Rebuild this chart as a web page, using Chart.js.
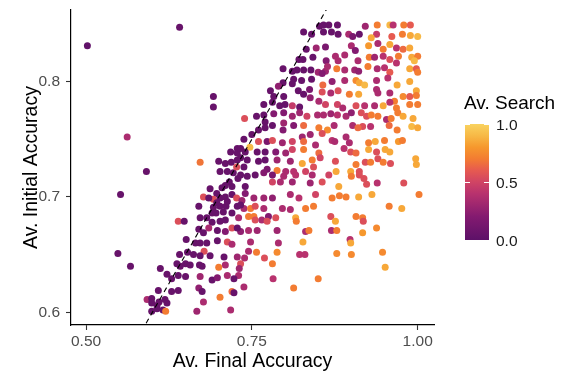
<!DOCTYPE html>
<html>
<head>
<meta charset="utf-8">
<script src="https://cdn.jsdelivr.net/npm/chart.js@4.4.0/dist/chart.umd.min.js"></script>
<style>
  html, body { margin: 0; padding: 0; background: #fff; }
</style>
</head>
<body>
<canvas id="grafico" width="569" height="373"></canvas>
<script>
// Av. Final Accuracy (x)
const finalAcc = [
  0.502,0.641,0.692,0.692,0.562,0.739,0.757,0.747,0.591,0.552,0.548,0.567,0.672,0.639,0.648,
  .852,.858,.866,.879,.858,.870,.880,.828,.840,.832,
  .847,.861,.821,.827,.842,.862,.876,.880,.797,.811,
  .818,.828,.839,.850,.861,.864,.878,.813,.825,.840,
  .856,.797,.811,.857,.871,.790,.778,.820,.828,.837,
  .856,.869,.768,.781,.792,.800,.811,.822,.838,.851,
  .861,.879,.783,.798,
  .921,.939,.958,.963,.979,.989,.896,.902,.912,.938,
  .930,.961,.977,.989,1.000,.900,.906,.926,.940,.948,
  .958,.968,.978,.988,.890,.910,.927,.935,.948,.958,
  .971,.991,1.000,.995,.890,.905,.911,.925,.939,.950,
  .958,.968,.988,.998,1.000,.890,.907,.912,.920,.938,
  .955,.969,.988,.880,.897,.911,.938,.940,.958,.965,
  .978,.988,.998,.998,.887,.907,.920,.935,.948,.958,
  .988,1.000,.968,
  .700,.718,.728,.728,.710,.719,.728,.702,.713,.722,
  .727,.729,.716,.710,.720,.705,.687,.697,.677,.692,
  .702,.710,.720,.727,.670,.692,.702,.711,.728,.690,
  .696,.707,.720,.672,.682,
  .768,.783,.798,.811,.822,.833,.849,.858,.869,.879,
  .770,.781,.798,.813,.828,.851,.864,.874,.750,.760,
  .770,.797,.826,.838,.856,.871,.738,.760,.773,.781,
  .796,.811,.828,.846,.733,.758,.770,.786,.801,.811,
  .828,.851,.733,.743,.760,.770,.788,.808,.826,.841,
  .853,.876,.738,.773,.788,.801,.813,.831,.843,.733,
  .743,.755,.768,.798,.816,.841,.866,.781,.793,.811,
  .838,.856,.881,.740,.740,.753,.768,.781,.808,.821,
  .846,.871,.738,.748,.768,.796,.808,.831,.843,.753,
  .775,.786,.816,.869,
  .892,.900,.915,.923,.930,.940,.953,.960,.970,.978,
  .993,.991,1.000,.902,.917,.929,.910,.957,.969,.892,
  .897,.875,.926,.936,.950,.971,.977,.889,.899,.907,
  .926,.938,.951,.958,.907,.921,.929,.940,.948,.959,
  .997,.998,.877,.899,.900,.912,.912,.919,.923,.939,
  .979,.882,.892,.911,.931,1.002,.957,.976,.907,.917,
  .817,.876,.918,.831,.836,.870,.878,.938,.917,.788,
  .827,.790,.898,.899,.788,.822,.830,.878,.900,.947,
  .781,.951,.782,.850,.813,
  .690,.702,.710,.730,.745,.755,.765,.773,.670,.685,
  .698,.710,.720,.733,.745,.758,.651,.665,.672,.682,
  .698,.713,.748,.678,.641,.653,.662,.672,.687,.708,
  .728,.739,.745,.757,.769,.612,.637,.642,.650,.657,
  .671,.675,.710,.700,.733,.731,.622,.629,.639,.650,
  .672,.690,.698,.713,.730,.629,.639,.670,.675,.702,
  .720,.723,.738,.592,.599,.599,.610,.619,.622,.599,
  .607,.616,.620,.667,.677,.718,
  .740,.685,.697,.713,.735,.733,.755,.728,.677,.720,
  .723,.609,.607,.781
];

// Av. Initial Accuracy (y)
const initialAcc = [
  0.831,0.847,0.787,0.778,0.752,0.768,0.770,0.743,0.722,0.702,0.651,0.640,0.730,0.679,0.679,
  .848,.849,.849,.849,.843,.843,.841,.843,.841,.828,
  .829,.830,.819,.819,.821,.818,.822,.818,.811,.809,
  .810,.810,.810,.808,.809,.813,.811,.802,.801,.802,
  .807,.799,.798,.797,.800,.796,.792,.792,.789,.793,
  .791,.790,.780,.782,.779,.780,.779,.778,.786,.783,
  .780,.780,.787,.787,
  .848,.849,.849,.849,.849,.849,.841,.839,.841,.841,
  .838,.839,.841,.840,.839,.831,.827,.831,.833,.828,
  .832,.829,.828,.829,.823,.818,.821,.821,.822,.819,
  .822,.821,.822,.818,.810,.810,.809,.813,.811,.812,
  .808,.816,.811,.811,.808,.801,.801,.799,.797,.801,
  .803,.797,.800,.792,.789,.789,.793,.790,.790,.783,
  .787,.787,.792,.788,.777,.779,.779,.779,.779,.782,
  .780,.780,.777,
  .731,.739,.742,.738,.729,.730,.732,.722,.722,.721,
  .726,.716,.713,.710,.709,.708,.707,.703,.700,.698,
  .699,.700,.702,.699,.692,.691,.692,.692,.692,.686,
  .686,.687,.686,.682,.682,
  .771,.772,.773,.770,.773,.770,.771,.771,.772,.771,
  .765,.762,.764,.762,.762,.760,.758,.762,.754,.758,
  .760,.758,.752,.754,.755,.749,.750,.748,.748,.749,
  .747,.748,.748,.745,.742,.739,.739,.739,.738,.741,
  .741,.738,.734,.732,.731,.732,.732,.731,.729,.732,
  .734,.731,.726,.724,.723,.722,.722,.722,.726,.719,
  .718,.719,.721,.718,.719,.719,.719,.713,.713,.713,
  .712,.713,.709,.709,.703,.699,.699,.699,.702,.699,
  .702,.699,.690,.690,.690,.690,.689,.690,.692,.683,
  .683,.682,.682,.683,
  .770,.773,.773,.770,.771,.770,.767,.768,.773,.770,
  .768,.761,.760,.762,.761,.761,.760,.762,.758,.752,
  .747,.748,.747,.748,.749,.748,.749,.742,.739,.738,
  .741,.739,.741,.739,.728,.730,.730,.733,.730,.729,
  .733,.728,.722,.722,.718,.722,.719,.716,.711,.712,
  .712,.701,.700,.700,.702,.702,.692,.690,.683,.682,
  .679,.679,.679,.670,.671,.671,.671,.673,.669,.671,
  .661,.660,.663,.660,.652,.650,.650,.651,.650,.652,
  .642,.639,.629,.629,.621,
  .678,.679,.680,.682,.683,.680,.680,.679,.672,.673,
  .671,.670,.673,.670,.671,.671,.663,.660,.660,.660,
  .662,.661,.661,.653,.650,.652,.650,.649,.649,.648,
  .648,.647,.653,.652,.647,.638,.642,.640,.642,.641,
  .641,.640,.641,.639,.642,.638,.633,.629,.632,.631,
  .631,.628,.630,.632,.632,.618,.619,.621,.618,.613,
  .618,.617,.622,.611,.612,.608,.609,.611,.608,.601,
  .603,.602,.601,.601,.609,.602,
  .739,.699,.695,.696,.697,.693,.692,.673,.669,.659,
  .629,.619,.606,.719
];

// Av. Search (colour)
const search = [
  0.02,0.05,0.05,0.05,0.35,0.55,0.05,0.9,0.05,0.05,0.05,0.05,0.68,0.55,0.05,
  .05,.05,.05,.05,.05,.05,.05,.05,.05,.05,
  .3,.15,.05,.05,.05,.2,.35,.35,.05,.05,
  .05,.05,.05,.3,.3,.35,.7,.05,.05,.05,
  .2,.05,.05,.65,.25,.25,.05,.05,.05,.15,
  .55,.35,.05,.05,.05,.05,.45,.05,.25,.35,
  .5,.5,.05,.05,
  .3,.7,.9,.4,.7,.6,.35,.15,.05,.45,
  .85,.6,.7,.85,.9,.35,.2,.8,.35,.7,
  .85,.4,.65,.85,.35,.35,.7,.3,.4,.55,
  .7,.85,.7,.9,.35,.3,.25,.7,.35,.4,
  .6,.4,.85,.6,.7,.35,.75,.85,.9,.35,
  .4,.85,.85,.55,.7,.85,.35,.35,.35,.7,
  .75,.6,.85,.7,.35,.55,.4,.35,.85,.4,
  .7,.7,.7,
  .05,.05,.05,.05,.05,.05,.05,.05,.05,.05,
  .55,.05,.05,.05,.05,.05,.05,.05,.55,.55,
  .05,.05,.05,.55,.05,.05,.05,.05,.05,.05,
  .05,.05,.05,.05,.05,
  .05,.2,.2,.3,.3,.5,.35,.35,.3,.4,
  .05,.05,.3,.2,.65,.7,.75,.35,.05,.05,
  .05,.2,.3,.3,.55,.4,.05,.55,.15,.55,
  .3,.5,.65,.35,.05,.05,.05,.2,.3,.5,
  .7,.65,.05,.05,.05,.05,.3,.3,.85,.7,
  .5,.55,.05,.15,.7,.35,.4,.5,.55,.05,
  .05,.05,.2,.35,.4,.35,.5,.5,.35,.3,
  .3,.55,.85,.05,.2,.3,.3,.25,.35,.4,
  .5,.7,.35,.7,.35,.35,.35,.7,.7,.7,
  .2,.55,.85,.55,
  .35,.25,.55,.55,.7,.7,.35,.7,.7,.85,
  .85,.9,.85,.35,.55,.4,.65,.65,.7,.35,
  .35,.35,.7,.85,.7,.8,.7,.4,.55,.65,
  .85,.55,.85,.85,.7,.55,.7,.55,.7,.55,
  .85,.85,.85,.85,.7,.55,.55,.55,.55,.4,
  .55,.7,.7,.85,.85,.7,.7,.85,.7,.7,
  .7,.85,.55,.35,.7,.35,.7,.75,.8,.3,
  .85,.35,.4,.85,.75,.4,.4,.75,.75,.75,
  .7,.85,.4,.7,.7,
  .05,.05,.05,.35,.7,.55,.35,.55,.05,.35,
  .05,.2,.55,.25,.35,.3,.05,.05,.05,.05,
  .05,.55,.35,.55,.05,.05,.05,.05,.05,.05,
  .3,.35,.35,.7,.55,.05,.05,.05,.05,.05,
  .05,.05,.35,.7,.55,.3,.05,.05,.05,.05,
  .3,.05,.2,.35,.35,.05,.05,.25,.05,.7,
  .65,.05,.35,.35,.05,.05,.05,.05,.05,.05,
  .05,.05,.7,.3,.35,.35,
  .05,.05,.05,.05,.3,.05,.55,.05,.05,.35,
  .05,.05,.05,.15
];

const xTicks = [0.5, 0.75, 1.0];
const yTicks = [0.6, 0.7, 0.8];
const searchTicks = [0, 0.5, 1];
const refLine = [0.55, 0.9]; // y = x

const fuente = "'Liberation Sans', Arial, sans-serif";

// paleta tipo inferno recortada
const paleta = [
  [0.0, [93, 17, 104]],
  [0.2, [131, 26, 112]],
  [0.4, [184, 50, 110]],
  [0.5, [208, 68, 100]],
  [0.6, [230, 90, 80]],
  [0.7, [243, 124, 50]],
  [0.8, [246, 152, 45]],
  [0.9, [247, 185, 70]],
  [1.0, [249, 211, 96]]
];

function colorDe(v) {
  for (let i = 1; i < paleta.length; i++) {
    if (v <= paleta[i][0]) {
      const a = paleta[i - 1], b = paleta[i];
      const t = (v - a[0]) / (b[0] - a[0]);
      const c = a[1].map((k, j) => Math.round(k + (b[1][j] - k) * t));
      return `rgb(${c[0]},${c[1]},${c[2]})`;
    }
  }
  const u = paleta[paleta.length - 1][1];
  return `rgb(${u[0]},${u[1]},${u[2]})`;
}

const n = Math.min(finalAcc.length, initialAcc.length, search.length);
const puntos = [];
const colores = [];
for (let i = 0; i < n; i++) {
  puntos.push({ x: finalAcc[i], y: initialAcc[i] });
  colores.push(colorDe(search[i]));
}

// barra de color de la leyenda
const leyendaColor = {
  id: "leyendaColor",
  afterDraw(chart) {
    const c = chart.ctx;
    const x0 = 465, x1 = 489, yTop = 124, yBot = 240;
    c.save();
    const grad = c.createLinearGradient(0, yBot, 0, yTop);
    paleta.forEach(p => grad.addColorStop(p[0], colorDe(p[0])));
    c.fillStyle = grad;
    c.fillRect(x0, yTop, x1 - x0, yBot - yTop);

    c.strokeStyle = "#fff";
    c.lineWidth = 1;
    searchTicks.forEach(v => {
      const y = Math.round(yBot - v * (yBot - yTop)) + 0.5;
      c.beginPath();
      c.moveTo(x0, y); c.lineTo(x0 + 5, y);
      c.moveTo(x1 - 5, y); c.lineTo(x1, y);
      c.stroke();
    });

    c.fillStyle = "#1a1a1a";
    c.font = "15.5px " + fuente;
    c.textAlign = "left";
    c.textBaseline = "middle";
    searchTicks.forEach(v => c.fillText(v.toFixed(1), 496, yBot - v * (yBot - yTop) + 2));

    c.fillStyle = "#000";
    c.font = "19px " + fuente;
    c.fillText("Av. Search", 464, 104);
    c.restore();
  }
};

new Chart(document.getElementById("grafico").getContext("2d"), {
  type: "scatter",
  data: {
    datasets: [
      {
        type: "line",
        data: refLine.map(v => ({ x: v, y: v })),
        borderColor: "#000",
        borderWidth: 1.1,
        borderDash: [5, 4],
        pointRadius: 0,
        fill: false,
        order: 0
      },
      {
        data: puntos,
        backgroundColor: colores,
        borderWidth: 0,
        pointRadius: 3.5,
        pointHoverRadius: 3.5,
        order: 1
      }
    ]
  },
  options: {
    responsive: false,
    animation: false,
    devicePixelRatio: 1,
    layout: { padding: { top: 10, right: 135, left: 0, bottom: 0 } },
    plugins: { legend: { display: false }, tooltip: { enabled: false } },
    scales: {
      x: {
        type: "linear",
        min: 0.4773,
        max: 1.0246,
        afterBuildTicks: s => { s.ticks = xTicks.map(v => ({ value: v })); },
        afterFit: s => { s.height = 48; s.paddingLeft = 0; s.paddingRight = 0; },
        border: { color: "#000", width: 1.2 },
        grid: { drawOnChartArea: false, drawTicks: true, tickLength: 5, tickColor: "#333", tickWidth: 1.1 },
        ticks: {
          color: "#4d4d4d", font: { family: fuente, size: 15.5 }, padding: 2,
          maxRotation: 0, autoSkip: false, callback: v => Number(v).toFixed(2)
        },
        title: {
          display: true, text: "Av. Final Accuracy", color: "#000",
          font: { family: fuente, size: 19.5 }, padding: { top: 0, bottom: 0 }
        }
      },
      y: {
        type: "linear",
        min: 0.589,
        max: 0.862,
        afterBuildTicks: s => { s.ticks = yTicks.map(v => ({ value: v })); },
        afterFit: s => { s.width = 71; s.paddingTop = 0; s.paddingBottom = 0; },
        border: { color: "#000", width: 1.2 },
        grid: { drawOnChartArea: false, drawTicks: true, tickLength: 5, tickColor: "#333", tickWidth: 1.1 },
        ticks: {
          color: "#4d4d4d", font: { family: fuente, size: 15.5 }, padding: 6,
          autoSkip: false, callback: v => Number(v).toFixed(1)
        },
        title: {
          display: true, text: "Av. Initial Accuracy", color: "#000",
          font: { family: fuente, size: 19.5 }, padding: { top: 20, bottom: 0 }
        }
      }
    }
  },
  plugins: [leyendaColor]
});
</script>
</body>
</html>
